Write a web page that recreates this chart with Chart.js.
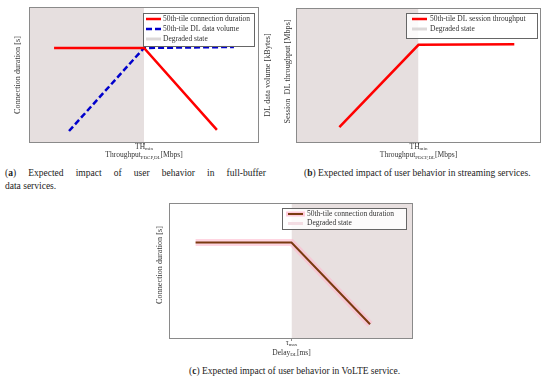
<!DOCTYPE html>
<html>
<head>
<meta charset="utf-8">
<script src="https://cdn.jsdelivr.net/npm/chart.js@4"></script>
<style>
  body { margin: 0; width: 550px; height: 381px; position: relative; overflow: hidden; background: #fff; font-family: "Liberation Serif", serif; color: #222; }
  .panel { position: absolute; }
  .cap { position: absolute; font-size: 9.5px; line-height: 13px; white-space: nowrap; }
  .just { text-align: justify; text-align-last: justify; }
</style>
</head>
<body>
<div class="panel" style="left:0;top:0;width:275px;height:165px"><canvas id="chartA"></canvas></div>
<div class="panel" style="left:275px;top:0;width:275px;height:165px"><canvas id="chartB"></canvas></div>
<div class="panel" style="left:150px;top:195px;width:275px;height:165px"><canvas id="chartC"></canvas></div>

<div class="cap just" style="left:5px;top:167px;width:261px;white-space:normal">(<b>a</b>) Expected impact of user behavior in full-buffer</div>
<div class="cap" style="left:5px;top:180px">data services.</div>
<div class="cap" style="left:304px;top:167px">(<b>b</b>) Expected impact of user behavior in streaming services.</div>
<div class="cap" style="left:189px;top:365px">(<b>c</b>) Expected impact of user behavior in VoLTE service.</div>

<script>
// (a) full-buffer data services
const aDurX = [10.9, 50, 81.7];
const aDurY = [69.9, 69.9, 9.6];
const aVolX = [17.4, 50, 89.1];
const aVolY = [8.8, 69.9, 70.6];
const aDegraded = [0, 50];

// (b) streaming services
const bThrX = [17.7, 50, 89.1];
const bThrY = [11.7, 72.7, 73.2];
const bDegraded = [0, 50];

// (c) VoLTE service
const cDurX = [10.9, 50.2, 82.4];
const cDurY = [71, 71, 10.8];
const cDegraded = [50.2, 100];

// tick labels as [text, subscript]
const thTick = ['TH', 'min'];
const tauTick = ['\u03C4', 'max'];

const serif = '"Liberation Serif", serif';

function pts(xs, ys) {
  return xs.map((x, i) => ({ x: x, y: ys[i] }));
}

function band(range) {
  return [{ x: range[0], y: 100 }, { x: range[1], y: 100 }];
}

// draws [text, isSub] pieces centred on x
function rich(ctx, parts, x, y) {
  const size = p => (p[1] ? 5 : 7.5) + 'px ' + serif;
  let w = 0;
  parts.forEach(p => { ctx.font = size(p); w += ctx.measureText(p[0]).width; });
  let cx = x - w / 2;
  parts.forEach(p => {
    ctx.font = size(p);
    ctx.fillText(p[0], cx, y + (p[1] ? 2 : 0));
    cx += ctx.measureText(p[0]).width;
  });
}

const decor = {
  id: 'decor',
  afterDraw(chart, args, o) {
    const ctx = chart.ctx, a = chart.chartArea;
    const xs = chart.scales.x;
    ctx.save();
    // frame
    ctx.strokeStyle = '#8a8a8a';
    ctx.lineWidth = 1;
    ctx.strokeRect(Math.round(a.left) + 0.5, Math.round(a.top) + 0.5, Math.round(a.width) - 1, Math.round(a.height) - 1);
    // threshold tick
    const tx = xs.getPixelForValue(o.threshold);
    ctx.beginPath();
    ctx.moveTo(tx, a.bottom);
    ctx.lineTo(tx, a.bottom + 2);
    ctx.stroke();
    ctx.fillStyle = '#333';
    ctx.textBaseline = 'middle';
    ctx.textAlign = 'left';
    rich(ctx, [[o.tick[0], false], [o.tick[1], true]], tx, a.bottom + o.tickGap);
    rich(ctx, o.xTitle, tx, a.bottom + o.titleGap);
    // y titles, both read bottom to top
    ctx.font = '8.2px ' + serif;
    ctx.textAlign = 'center';
    const my = (a.top + a.bottom) / 2 + (o.yShift || 0);
    [[o.yLeft, o.yLeftX], [o.yRight, o.yRightX]].forEach(t => {
      if (!t[0]) return;
      ctx.save();
      ctx.translate(t[1], my);
      ctx.rotate(-Math.PI / 2);
      ctx.fillText(t[0], 0, 0);
      ctx.restore();
    });
    // legend box
    const L = o.legend;
    ctx.fillStyle = 'rgba(255,255,255,0.85)';
    ctx.fillRect(L.x, L.y, L.w, L.h);
    ctx.strokeStyle = '#666';
    ctx.strokeRect(L.x + 0.5, L.y + 0.5, L.w, L.h);
    chart.data.datasets.filter(d => d.label).forEach((d, i) => {
      const y = L.y + L.first + i * L.step;
      if (d.glow) {
        ctx.beginPath();
        ctx.strokeStyle = d.glow;
        ctx.lineWidth = 5;
        ctx.moveTo(L.x + L.sx - 2, y);
        ctx.lineTo(L.x + L.sx + L.sw + 2, y);
        ctx.stroke();
      }
      ctx.beginPath();
      ctx.strokeStyle = d.swatch || d.borderColor;
      ctx.lineWidth = d.swatch ? 3 : d.borderWidth;
      ctx.setLineDash(d.borderDash || []);
      ctx.moveTo(L.x + L.sx, y);
      ctx.lineTo(L.x + L.sx + L.sw, y);
      ctx.stroke();
      ctx.setLineDash([]);
      ctx.fillStyle = '#333';
      ctx.font = '7.5px ' + serif;
      ctx.textAlign = 'left';
      ctx.fillText(d.label, L.x + L.tx, y);
    });
    ctx.restore();
  }
};

function makeChart(id, datasets, pad, deco) {
  return new Chart(document.getElementById(id), {
    type: 'line',
    data: { datasets: datasets },
    plugins: [decor],
    options: {
      responsive: true,
      maintainAspectRatio: false,
      animation: false,
      layout: { padding: pad },
      elements: { point: { radius: 0 }, line: { tension: 0 } },
      scales: {
        x: { type: 'linear', min: 0, max: 100, display: false },
        y: { min: 0, max: 100, display: false }
      },
      plugins: { legend: { display: false }, tooltip: { enabled: false }, decor: deco }
    }
  });
}

const xTitleTH = [['Throughput', false], ['PDCP,DL', true], ['[Mbps]', false]];

makeChart('chartA', [
  { label: '50th-tile connection duration', data: pts(aDurX, aDurY), borderColor: '#ff0000', borderWidth: 2.5 },
  { label: '50th-tile DL data volume', data: pts(aVolX, aVolY), borderColor: '#0000cc', borderWidth: 2.5, borderDash: [6, 3] },
  { label: 'Degraded state', data: band(aDegraded), borderWidth: 0, fill: 'start', backgroundColor: '#e6dfdf', swatch: '#dcd8d8' }
], { left: 29, right: 16, top: 7, bottom: 22 }, {
  threshold: aDegraded[1], tick: thTick, tickGap: 4, titleGap: 12.5, xTitle: xTitleTH,
  yLeft: 'Connection duration [s]', yLeftX: 18, yRight: 'DL data volume [kBytes]', yRightX: 268,
  legend: { x: 143, y: 13, w: 111, h: 33, first: 6, step: 10, sx: 3, sw: 15, tx: 20 }
});

makeChart('chartB', [
  { label: '50th-tile DL session throughput', data: pts(bThrX, bThrY), borderColor: '#ff0000', borderWidth: 2.5 },
  { label: 'Degraded state', data: band(bDegraded), borderWidth: 0, fill: 'start', backgroundColor: '#e6dfdf', swatch: '#dcd8d8' }
], { left: 21, right: 9, top: 8, bottom: 22 }, {
  threshold: bDegraded[1], tick: thTick, tickGap: 4, titleGap: 12.5, xTitle: xTitleTH,
  yLeft: 'Session  DL throughput [Mbps]', yLeftX: 13, yShift: -4,
  legend: { x: 131, y: 13, w: 131, h: 25, first: 6, step: 10, sx: 6, sw: 15, tx: 24 }
});

makeChart('chartC', [
  { label: '50th-tile connection duration', data: pts(cDurX, cDurY), borderColor: '#7a3a10', borderWidth: 2, glow: 'rgba(255,190,210,0.8)' },
  { data: pts(cDurX, cDurY), borderColor: 'rgba(255,185,205,0.6)', borderWidth: 7 },
  { label: 'Degraded state', data: band(cDegraded), borderWidth: 0, fill: 'start', backgroundColor: '#e8e0e0', swatch: '#f3dde3' }
], { left: 19, right: 12, top: 8, bottom: 21 }, {
  threshold: cDegraded[0], tick: tauTick, tickGap: 3.7, titleGap: 14, xTitle: [['Delay', false], ['DL', true], ['[ms]', false]],
  yLeft: 'Connection duration [s]', yLeftX: 10, yShift: -6,
  legend: { x: 132, y: 13, w: 124, h: 21, first: 6, step: 9.5, sx: 6, sw: 15, tx: 25 }
});
</script>
</body>
</html>
